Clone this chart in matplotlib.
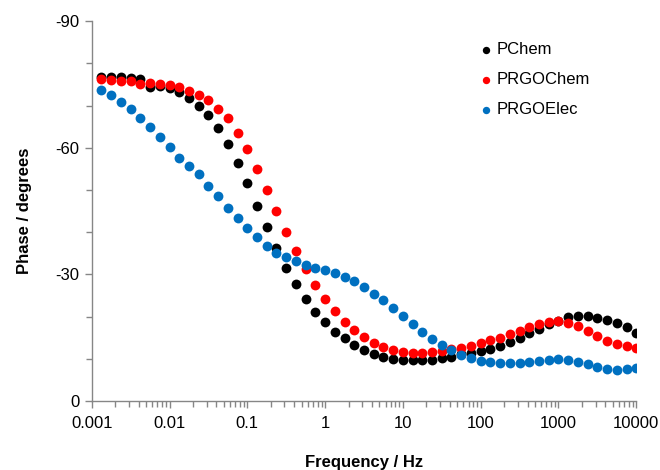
import matplotlib
matplotlib.use("Agg")
import matplotlib.pyplot as plt
from matplotlib.ticker import LogLocator, FixedLocator, MultipleLocator

plt.rcParams['font.family'] = ['Liberation Sans', 'DejaVu Sans']
plt.rcParams['axes.unicode_minus'] = False

# frequencies in Hz, 8 points per decade (low -> high)
freq = [0.001334, 0.001778, 0.002371, 0.003162, 0.004217, 0.005623, 0.007499,
        0.01, 0.01334, 0.01778, 0.02371, 0.03162, 0.04217, 0.05623, 0.07499,
        0.1, 0.1334, 0.1778, 0.2371, 0.3162, 0.4217, 0.5623, 0.7499,
        1.0, 1.334, 1.778, 2.371, 3.162, 4.217, 5.623, 7.499,
        10.0, 13.34, 17.78, 23.71, 31.62, 42.17, 56.23, 74.99,
        100.0, 133.4, 177.8, 237.1, 316.2, 421.7, 562.3, 749.9,
        1000.0, 1334.0, 1778.0, 2371.0, 3162.0, 4217.0, 5623.0, 7499.0,
        10000.0]

pchem = [-76.8, -76.8, -76.7, -76.5, -76.2, -74.3, -74.7, -74.1, -73.3, -71.9,
         -69.9, -67.7, -64.6, -61.0, -56.5, -51.6, -46.1, -41.1, -36.2, -31.5,
         -27.6, -24.1, -21.1, -18.6, -16.4, -14.8, -13.2, -12.0, -11.1, -10.4,
         -9.9, -9.8, -9.7, -9.7, -9.8, -10.1, -10.5, -11.0, -11.4, -11.8,
         -12.4, -13.1, -14.0, -14.9, -16.0, -17.0, -18.2, -19.0, -19.8, -20.1,
         -20.1, -19.7, -19.1, -18.4, -17.4, -16.2]

prgochem = [-76.3, -76.0, -75.9, -75.8, -75.2, -75.4, -75.2, -74.8, -74.3, -73.4,
            -72.4, -71.3, -69.2, -67.0, -63.5, -59.6, -54.9, -50.0, -45.0, -40.0,
            -35.5, -31.2, -27.5, -24.1, -21.2, -18.7, -16.8, -15.1, -13.7, -12.7,
            -12.1, -11.7, -11.4, -11.4, -11.6, -11.8, -12.2, -12.6, -13.1, -13.7,
            -14.4, -14.9, -15.8, -16.5, -17.4, -18.2, -18.6, -18.9, -18.5, -17.8,
            -16.6, -15.4, -14.3, -13.5, -12.9, -12.5]

prgoelec = [-73.7, -72.5, -70.9, -69.1, -67.1, -65.0, -62.6, -60.1, -57.6, -55.6,
            -53.8, -50.9, -48.6, -45.8, -43.3, -40.9, -38.8, -36.7, -35.1, -34.0,
            -33.1, -32.3, -31.6, -31.0, -30.2, -29.3, -28.3, -26.9, -25.4, -23.8,
            -22.0, -20.1, -18.2, -16.4, -14.7, -13.3, -12.1, -10.9, -10.1, -9.5,
            -9.2, -8.9, -8.9, -9.1, -9.2, -9.5, -9.7, -9.9, -9.7, -9.3,
            -8.7, -8.1, -7.5, -7.3, -7.5, -7.7]

fig = plt.figure(figsize=(6.6, 4.7), dpi=100)
ax = fig.add_axes([0.139, 0.147, 0.825, 0.808])

ax.scatter(freq, pchem, s=50, color='#000000', label='PChem', zorder=3, linewidths=0)
ax.scatter(freq, prgochem, s=50, color='#FF0000', label='PRGOChem', zorder=3, linewidths=0)
ax.scatter(freq, prgoelec, s=50, color='#0070C0', label='PRGOElec', zorder=3, linewidths=0)

ax.set_xscale('log')
ax.set_xlim(0.001, 10000)
ax.set_ylim(0, -90)
ax.xaxis.set_major_locator(LogLocator(base=10, numticks=20))
ax.xaxis.set_minor_locator(LogLocator(base=10, subs=range(2, 10), numticks=20))
ax.set_xticks([0.001, 0.01, 0.1, 1, 10, 100, 1000, 10000])
ax.set_xticklabels(['0.001', '0.01', '0.1', '1', '10', '100', '1000', '10000'])
ax.yaxis.set_major_locator(FixedLocator([0, -30, -60, -90]))
ax.yaxis.set_minor_locator(MultipleLocator(10))

for side in ['top', 'right']:
    ax.spines[side].set_visible(False)
for side in ['left', 'bottom']:
    ax.spines[side].set_color('#868686')
    ax.spines[side].set_linewidth(1.0)

ax.tick_params(axis='both', which='major', direction='out', length=5, width=1,
               color='#868686', labelsize=12, labelcolor='black')
ax.tick_params(axis='both', which='minor', direction='out', length=4, width=1,
               color='#868686')
ax.tick_params(axis='x', pad=6)
ax.tick_params(axis='y', pad=4)

ax.set_xlabel('Frequency / Hz', fontsize=12, fontweight='bold', labelpad=17)
ax.set_ylabel('Phase / degrees', fontsize=12, fontweight='bold', labelpad=17)

leg = ax.legend(loc='upper left', bbox_to_anchor=(0.685, 0.984), frameon=False,
                fontsize=12, handlelength=0.8, handletextpad=0.2, labelspacing=0.9,
                markerscale=0.75, scatterpoints=1)

fig.savefig('out.png', dpi=100)
